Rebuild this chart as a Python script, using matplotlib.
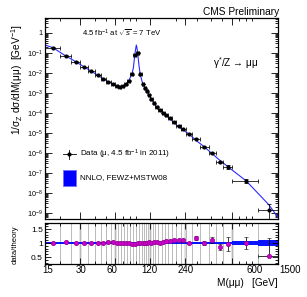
import matplotlib
matplotlib.use('Agg')
import matplotlib.pyplot as plt
import matplotlib.transforms as mtransforms
import numpy as np
from matplotlib.patches import Rectangle
from matplotlib.lines import Line2D
from matplotlib.ticker import FixedLocator, LogLocator, NullFormatter, MultipleLocator, FuncFormatter

plt.rcParams['font.family'] = ['Liberation Sans', 'DejaVu Sans']
plt.rcParams['mathtext.fontset'] = 'custom'
plt.rcParams['mathtext.rm'] = 'Liberation Sans'
plt.rcParams['mathtext.it'] = 'Liberation Sans:italic'
plt.rcParams['mathtext.bf'] = 'Liberation Sans:bold'

# mass bins (GeV)
bin_edges = [15, 20, 25, 30, 35, 40, 45, 50, 55, 60, 64, 68, 72, 76, 81, 86, 91, 96, 101,
             106, 110, 115, 120, 126, 133, 141, 150, 160, 171, 185, 200, 220, 243, 273,
             320, 380, 440, 510, 600, 1000, 1500]

# 1/sigma_Z dsigma/dM, data
data_vals = [0.185, 0.074, 0.037, 0.020, 0.0125, 0.0079, 0.0052, 0.0037, 0.0028, 0.0023,
             0.0021, 0.0022, 0.0027, 0.0042, 0.0085, 0.080, 0.105, 0.0085, 0.0028, 0.0017,
             0.0012, 0.00082, 0.00048, 0.00030, 0.00021, 0.000148, 0.000105, 7.5e-5, 5.3e-5,
             3.5e-5, 2.3e-5, 1.5e-5, 9.2e-6, 5.1e-6, 2.0e-6, 9.9e-7, 3.7e-7, 2.0e-7, 4.0e-8,
             1.43e-9]
data_err_frac = [0.03] * 26 + [0.03, 0.03, 0.04, 0.04, 0.04, 0.05, 0.05, 0.06, 0.08, 0.10,
                              0.12, 0.25, 0.22, 0.9]

# theory curve (NNLO FEWZ+MSTW08)
theory_mass = [15, 17.5, 22.5, 27.5, 32.5, 37.5, 42.5, 47.5, 52.5, 57.5, 62, 66, 70, 74, 78.5,
               83.5, 86, 88.5, 90, 91.2, 92.5, 93.5, 96, 98.5, 103.5, 108, 112.5, 117.5, 123,
               129.5, 137, 145.5, 155, 165.5, 178, 192.5, 210, 231.5, 258, 296.5, 350, 410,
               475, 555, 800, 1250, 1500]
theory_vals = [0.25, 0.185, 0.072, 0.037, 0.020, 0.0122, 0.0077, 0.0051, 0.0036, 0.0028,
               0.0023, 0.0021, 0.0022, 0.0027, 0.0042, 0.0087, 0.018, 0.08, 0.16, 0.25, 0.17,
               0.105, 0.025, 0.0085, 0.0028, 0.00165, 0.00115, 0.00078, 0.00047, 0.00029,
               0.0002, 0.00014, 0.0001, 7.1e-5, 4.9e-5, 3.2e-5, 2.05e-5, 1.36e-5, 9.0e-6,
               4.3e-6, 2.0e-6, 9.0e-7, 4.3e-7, 2.1e-7, 4.0e-8, 2.6e-9, 6e-10]

# data / theory
ratio_vals = [1.0, 1.04, 1.0, 1.0, 1.02, 1.02, 1.02, 1.03, 1.03, 1.0, 1.0, 1.0, 1.0, 1.0,
              0.97, 0.98, 1.0, 0.99, 1.0, 1.02, 1.01, 1.03, 1.02, 1.04, 1.03, 1.02, 1.04,
              1.06, 1.07, 1.10, 1.12, 1.10, 1.0, 1.18, 1.0, 1.10, 0.86, 0.97, 1.0, 0.55]
ratio_err_lo = [0.03] * 26 + [0.03, 0.03, 0.04, 0.04, 0.04, 0.05, 0.05, 0.06, 0.08, 0.10,
                             0.12, 0.25, 0.22, 0.02]
ratio_err_hi = ratio_err_lo[:-1] + [0.62]
band_half = [0.04] * 26 + [0.05] * 12 + [0.06, 0.10]

x_labels = ['15', '30', '60', '120', '240', '600', '1500']
x_label_pos = [15.9, 30.6, 56.8, 119, 243, 953, 1900]
light_lines = [30, 60, 120, 240, 600]

edges = np.array(bin_edges, dtype=float)
centers = 0.5 * (edges[:-1] + edges[1:])
xerr = [centers - edges[:-1], edges[1:] - centers]
dv = np.array(data_vals)
derr = np.array(data_err_frac) * dv

fig = plt.figure(figsize=(3.07, 2.97), dpi=100)
ax = fig.add_axes([0.1466, 0.2626, 0.759, 0.6768])
rax = fig.add_axes([0.1466, 0.1111, 0.759, 0.1381])

ax.plot(theory_mass, theory_vals, color='#2a2aff', lw=0.8, zorder=2)
ax.errorbar(centers, dv, xerr=xerr, yerr=derr, fmt='o', ms=2.0, color='black',
            elinewidth=0.55, capsize=1.2, capthick=0.55, zorder=3)
ax.set_xscale('log')
ax.set_yscale('log')
ax.set_xlim(15, 1500)
ax.set_ylim(5e-10, 5.6)

ax.yaxis.set_major_locator(FixedLocator([10.0 ** k for k in range(-9, 1)]))
ax.yaxis.set_minor_locator(LogLocator(base=10, subs=np.arange(2, 10), numticks=100))
ax.yaxis.set_minor_formatter(NullFormatter())


def ylab(v, pos):
    k = int(round(np.log10(v)))
    return '1' if k == 0 else r'10$^{%d}$' % k


ax.yaxis.set_major_formatter(FuncFormatter(ylab))
ax.xaxis.set_major_locator(FixedLocator([15, 30, 60, 120, 240, 600, 1500]))
ax.xaxis.set_minor_locator(LogLocator(base=10, subs=np.arange(2, 10), numticks=100))
ax.xaxis.set_major_formatter(NullFormatter())
ax.xaxis.set_minor_formatter(NullFormatter())
ax.tick_params(which='both', direction='in', top=True, right=True, width=0.6, labelsize=5.2, pad=1.5)
ax.tick_params(which='major', length=5)
ax.tick_params(which='minor', length=2.5)
for s in ax.spines.values():
    s.set_linewidth(0.9)

# legend, drawn by hand in axes coordinates
ax.add_line(Line2D([0.077, 0.133], [0.321, 0.321], transform=ax.transAxes, color='black', lw=0.6))
ax.add_line(Line2D([0.105, 0.105], [0.299, 0.343], transform=ax.transAxes, color='black', lw=0.6))
ax.add_line(Line2D([0.105], [0.321], transform=ax.transAxes, marker='o', ms=2.0, color='black'))
ax.add_patch(Rectangle((0.077, 0.164), 0.056, 0.080, transform=ax.transAxes,
                       facecolor='#0000ff', edgecolor='#7070ff', lw=0.6))
ax.text(0.150, 0.321, 'Data (μ, 4.5 fb$^{-1}$ in 2011)', transform=ax.transAxes,
        fontsize=5.8, va='center', ha='left')
ax.text(0.150, 0.204, 'NNLO, FEWZ+MSTW08', transform=ax.transAxes,
        fontsize=5.8, va='center', ha='left')
ax.text(0.159, 0.925, r'4.5 fb$^{-1}$ at $\sqrt{s}$ = 7 TeV', transform=ax.transAxes,
        fontsize=5.6, va='center', ha='left')
ax.text(0.721, 0.776, 'γ$^{*}$/Z → μμ', transform=ax.transAxes,
        fontsize=7.2, va='center', ha='left')
fig.text(0.909, 0.96, 'CMS Preliminary', fontsize=7.3, ha='right', va='center')
fig.text(0.055, 0.733, '1/σ$_{\\mathrm{Z}}$ dσ/dM(μμ)  [GeV$^{-1}$]', rotation=90,
         fontsize=7.3, ha='center', va='center')

# ratio panel
for e in light_lines:
    rax.axvline(e, color='#dcdcdc', lw=1.8, zorder=0)
for e in bin_edges[1:-1]:
    rax.axvline(e, color='#b0b0b0', lw=0.6, zorder=0)
bh = np.append(band_half, band_half[-1])
rax.fill_between(edges, 1 - bh, 1 + bh, step='post', color='#0a14ff', lw=0, zorder=1)
rxerr = [np.zeros(len(centers)), np.zeros(len(centers))]
rxerr[0][-1] = centers[-1] - edges[-2]
rxerr[1][-1] = edges[-1] - centers[-1]
rax.errorbar(centers, ratio_vals, yerr=[ratio_err_lo, ratio_err_hi], xerr=rxerr, fmt='o',
             ms=3.2, mfc='#cc00cc', mec='#8a008a', mew=0.4, ecolor='black',
             elinewidth=0.55, capsize=1.2, capthick=0.55, zorder=3)
rax.set_xscale('log')
rax.set_xlim(15, 1500)
rax.set_ylim(0.25, 1.72)
rax.yaxis.set_major_locator(FixedLocator([0.5, 1.0, 1.5]))
rax.yaxis.set_minor_locator(MultipleLocator(0.1))
rax.yaxis.set_major_formatter(FuncFormatter(lambda v, p: '%g' % v))
rax.xaxis.set_major_locator(FixedLocator([15, 30, 60, 120, 240, 600, 1500]))
rax.xaxis.set_minor_locator(LogLocator(base=10, subs=np.arange(2, 10), numticks=100))
rax.xaxis.set_major_formatter(NullFormatter())
rax.xaxis.set_minor_formatter(NullFormatter())
rax.tick_params(which='both', direction='in', top=True, right=True, width=0.6, labelsize=6.0, pad=1.5)
rax.tick_params(which='major', length=4)
rax.tick_params(which='minor', length=2)
for s in rax.spines.values():
    s.set_linewidth(0.9)

tr = mtransforms.blended_transform_factory(rax.transData, rax.transAxes)
for pos, lab in zip(x_label_pos, x_labels):
    rax.text(pos, -0.15, lab, transform=tr, fontsize=7.0, ha='center', va='center', clip_on=False)
rax.text(1.0, -0.46, 'M(μμ)   [GeV]', transform=rax.transAxes, fontsize=7.2,
         ha='right', va='center')
fig.text(0.049, 0.175, 'data/theory', rotation=90, fontsize=5.5, ha='center', va='center')

fig.savefig('out.png', dpi=100)
